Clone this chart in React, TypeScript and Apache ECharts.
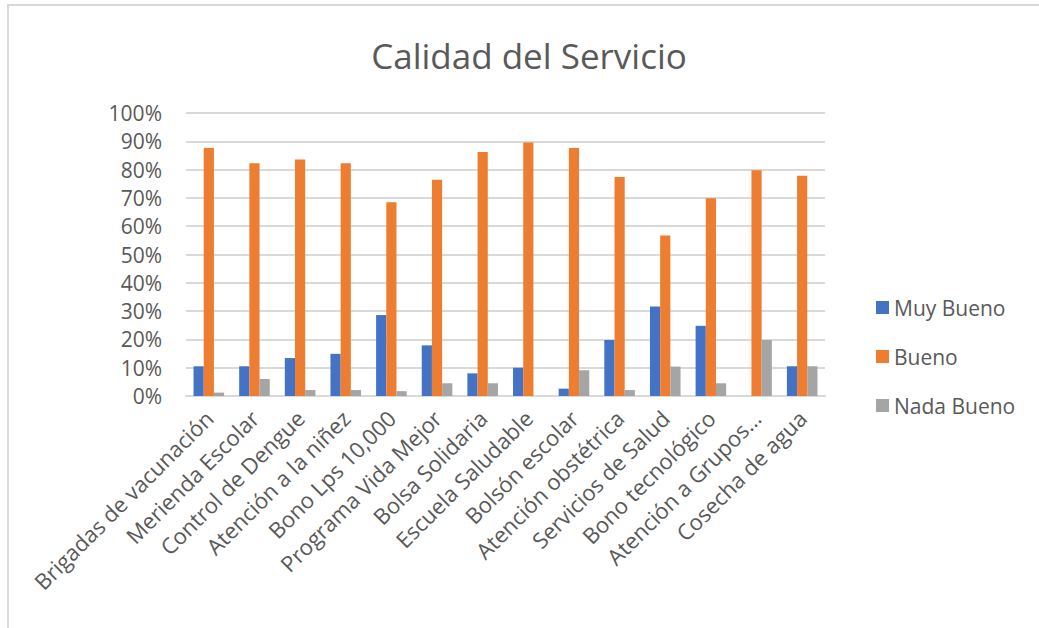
import React, { useEffect, useRef } from "react";
import * as echarts from "echarts";

const categories = [
  "Brigadas de vacunación",
  "Merienda Escolar",
  "Control de Dengue",
  "Atención a la niñez",
  "Bono Lps 10,000",
  "Programa Vida Mejor",
  "Bolsa Solidaria",
  "Escuela Saludable",
  "Bolsón escolar",
  "Atención obstétrica",
  "Servicios de Salud",
  "Bono tecnológico",
  "Atención a Grupos...",
  "Cosecha de agua",
];

const muyBueno = [10.5, 10.5, 13.4, 14.9, 28.6, 17.9, 8.0, 10.0, 2.6, 19.8, 31.6, 24.8, 0, 10.5];
const bueno = [87.6, 82.2, 83.6, 82.2, 68.5, 76.4, 86.2, 89.6, 87.6, 77.4, 56.7, 69.9, 79.8, 77.8];
const nadaBueno = [1.2, 6.0, 2.1, 2.1, 1.7, 4.5, 4.5, 0, 9.1, 2.1, 10.4, 4.5, 19.8, 10.5];

const seriesNames = ["Muy Bueno", "Bueno", "Nada Bueno"];
const yTicks = { min: 0, max: 100, interval: 10 };

const FONT = "'Open Sans', sans-serif";
const TEXT = "#595959";

export default function App() {
  const ref = useRef<HTMLDivElement>(null);
  useEffect(() => {
    if (!ref.current) return;
    const chart = echarts.init(ref.current, null, { renderer: "svg" });
    const mk = (name: string, data: number[], color: string) => ({
      name,
      type: "bar",
      data,
      barGap: "0%",
      barCategoryGap: "33%",
      itemStyle: { color },
      emphasis: { disabled: true },
    });
    chart.setOption({
      animation: false,
      backgroundColor: "#ffffff",
      textStyle: { fontFamily: FONT },
      graphic: [
        {
          type: "line",
          shape: { x1: 7, y1: 5, x2: 1039, y2: 5 },
          style: { stroke: "#d9d9d9", lineWidth: 2 },
        },
        {
          type: "line",
          shape: { x1: 8, y1: 4, x2: 8, y2: 628 },
          style: { stroke: "#d9d9d9", lineWidth: 2 },
        },
        {
          type: "text",
          x: 529,
          y: 55,
          style: {
            text: "Calidad del Servicio",
            font: `35px ${FONT}`,
            fill: TEXT,
            align: "center",
            verticalAlign: "middle",
          },
        },
      ],
      legend: {
        orient: "vertical",
        left: 871,
        top: 292,
        itemWidth: 13,
        itemHeight: 13,
        itemGap: 28,
        icon: "rect",
        data: seriesNames,
        textStyle: {
          fontFamily: FONT,
          fontSize: 21,
          color: TEXT,
          lineHeight: 21,
        },
      },
      grid: { left: 186, right: 214, top: 113, bottom: 232, containLabel: false },
      xAxis: {
        type: "category",
        data: categories,
        axisLine: { show: true, lineStyle: { color: "#d9d9d9", width: 2 } },
        axisTick: { show: false },
        axisLabel: {
          interval: 0,
          rotate: 45,
          fontFamily: FONT,
          fontSize: 22,
          color: TEXT,
          margin: 18,
        },
      },
      yAxis: {
        type: "value",
        min: yTicks.min,
        max: yTicks.max,
        interval: yTicks.interval,
        axisLine: { show: false },
        axisTick: { show: false },
        splitLine: { lineStyle: { color: "#d9d9d9", width: 2 } },
        axisLabel: {
          formatter: "{value}%",
          fontFamily: FONT,
          fontSize: 21,
          color: TEXT,
          margin: 24,
        },
      },
      series: [
        mk(seriesNames[0], muyBueno, "#4472C4"),
        mk(seriesNames[1], bueno, "#ED7D31"),
        mk(seriesNames[2], nadaBueno, "#A5A5A5"),
      ],
    });
    return () => chart.dispose();
  }, []);
  return (
    <div
      ref={ref}
      style={{ position: "fixed", left: 0, top: 0, width: 1039, height: 628 }}
    />
  );
}
